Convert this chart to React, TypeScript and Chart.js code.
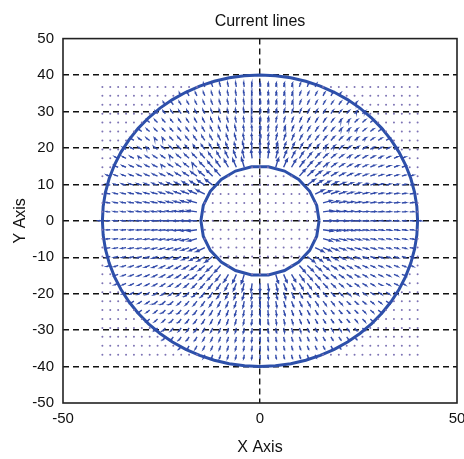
import { useEffect, useRef } from 'react';
import { Chart, registerables } from 'chart.js';

Chart.register(...registerables);

const FONT = '"Liberation Sans", Arial, sans-serif';

const xTickValues = [-50, 0, 50];
const yTickValues = [-50, -40, -30, -20, -10, 0, 10, 20, 30, 40, 50];

// quiver sample grid
const gridX = [-40, -38, -36, -34, -32, -30, -28, -26, -24, -22, -20, -18, -16, -14, -12, -10, -8, -6, -4, -2, 0,
  2, 4, 6, 8, 10, 12, 14, 16, 18, 20, 22, 24, 26, 28, 30, 32, 34, 36, 38, 40];
const gridY = [-36.75, -34.3, -31.85, -29.4, -26.95, -24.5, -22.05, -19.6, -17.15, -14.7, -12.25, -9.8, -7.35, -4.9, -2.45, 0,
  2.45, 4.9, 7.35, 9.8, 12.25, 14.7, 17.15, 19.6, 22.05, 24.5, 26.95, 29.4, 31.85, 34.3, 36.75];

// electrodes: inner and outer circle radii, and number of polygon sides drawn
const electrodeRadii = [15, 40];
const electrodeSides = [22, 64];
// arrow length (axis units) times radius: radial 1/r current density
const currentScale = [37];

function buildArrows() {
  const pts: any[] = [];
  const dots: any[] = [];
  const k = currentScale[0];
  const rIn = electrodeRadii[0];
  const rOut = electrodeRadii[1];
  for (const y of gridY) {
    for (const x of gridX) {
      const r = Math.hypot(x, y);
      if (r >= rIn && r <= rOut) {
        const len = k / r;
        const ux = (x / r) * len;
        const uy = (y / r) * len;
        const tx = x + ux;
        const ty = y + uy;
        const ang = Math.atan2(uy, ux);
        const hl = len * 0.33;
        const a1 = ang + Math.PI - 0.45;
        const a2 = ang + Math.PI + 0.45;
        pts.push({ x, y });
        pts.push({ x: tx, y: ty });
        pts.push({ x: tx + hl * Math.cos(a1), y: ty + hl * Math.sin(a1) });
        pts.push({ x: tx, y: ty });
        pts.push({ x: tx + hl * Math.cos(a2), y: ty + hl * Math.sin(a2) });
        pts.push({ x: tx, y: null });
      } else {
        dots.push({ x, y });
      }
    }
  }
  return { pts, dots };
}

function circlePoints(r: number, n: number) {
  const out: any[] = [];
  for (let i = 0; i <= n; i++) {
    const a = (i / n) * Math.PI * 2;
    out.push({ x: r * Math.cos(a), y: r * Math.sin(a) });
  }
  return out;
}

const framePlugin = {
  id: 'frame',
  afterDraw(chart: any) {
    const { ctx, chartArea } = chart;
    ctx.save();
    ctx.strokeStyle = '#222';
    ctx.lineWidth = 1.6;
    ctx.strokeRect(chartArea.left, chartArea.top, chartArea.right - chartArea.left, chartArea.bottom - chartArea.top);
    ctx.restore();
  },
};

export default function App() {
  const ref = useRef<HTMLCanvasElement>(null);
  useEffect(() => {
    if (!ref.current) return;
    const { pts, dots } = buildArrows();
    const chart = new Chart(ref.current, {
      type: 'line',
      data: {
        datasets: [
          {
            label: 'current',
            data: pts,
            borderColor: 'rgb(50,75,170)',
            borderWidth: 1.4,
            pointRadius: 0,
            spanGaps: false,
            tension: 0,
          },
          {
            label: 'zero',
            data: dots,
            showLine: false,
            pointRadius: 1,
            pointBorderWidth: 0,
            pointBackgroundColor: 'rgb(125,115,180)',
          },
          {
            label: 'inner',
            data: circlePoints(electrodeRadii[0], electrodeSides[0]),
            borderColor: 'rgb(45,80,170)',
            borderWidth: 3,
            pointRadius: 0,
            tension: 0,
          },
          {
            label: 'outer',
            data: circlePoints(electrodeRadii[1], electrodeSides[1]),
            borderColor: 'rgb(45,80,170)',
            borderWidth: 3,
            pointRadius: 0,
            tension: 0,
          },
        ],
      } as any,
      options: {
        animation: false,
        responsive: false,
        devicePixelRatio: 1,
        layout: { autoPadding: false, padding: { top: 0, right: 7, left: 0, bottom: 0 } },
        plugins: {
          legend: { display: false },
          tooltip: { enabled: false },
          title: {
            display: true,
            fullSize: false,
            text: 'Current lines',
            color: '#111',
            font: { family: FONT, size: 16, weight: 'normal' },
            padding: { top: 12, bottom: 7.4 },
          },
        },
        scales: {
          x: {
            type: 'linear',
            min: -50,
            max: 50,
            afterBuildTicks: (s: any) => {
              s.ticks = xTickValues.map((v) => ({ value: v }));
            },
            afterFit: (s: any) => {
              s.height = 56;
              s.paddingRight = 0;
              s.paddingLeft = 0;
            },
            ticks: { color: '#111', font: { family: FONT, size: 15 }, padding: 7, maxRotation: 0, autoSkip: false },
            grid: {
              drawTicks: false,
              lineWidth: 1.4,
              color: (c: any) => (c.tick && c.tick.value === 0 ? '#111' : 'rgba(0,0,0,0)'),
            },
            border: { display: false, dash: [6, 4] },
            title: {
              display: true,
              text: 'X Axis',
              color: '#111',
              font: { family: FONT, size: 16 },
              padding: { top: 0, bottom: 2 },
            },
          },
          y: {
            type: 'linear',
            min: -50,
            max: 50,
            afterBuildTicks: (s: any) => {
              s.ticks = yTickValues.map((v) => ({ value: v }));
            },
            afterFit: (s: any) => {
              s.width = 63;
            },
            ticks: { color: '#111', font: { family: FONT, size: 15 }, padding: 9, autoSkip: false },
            grid: {
              drawTicks: false,
              lineWidth: 1.4,
              color: (c: any) =>
                c.tick && Math.abs(c.tick.value) !== 50 ? '#111' : 'rgba(0,0,0,0)',
            },
            border: { display: false, dash: [6, 4] },
            title: {
              display: true,
              text: 'Y Axis',
              color: '#111',
              font: { family: FONT, size: 16 },
              padding: { top: 11, bottom: 0 },
            },
          },
        },
      } as any,
      plugins: [framePlugin],
    });
    return () => chart.destroy();
  }, []);
  return (
    <div style={{ position: 'absolute', left: 0, top: 0, width: 464, height: 459, background: '#fff' }}>
      <canvas ref={ref} width={464} height={459} />
    </div>
  );
}
